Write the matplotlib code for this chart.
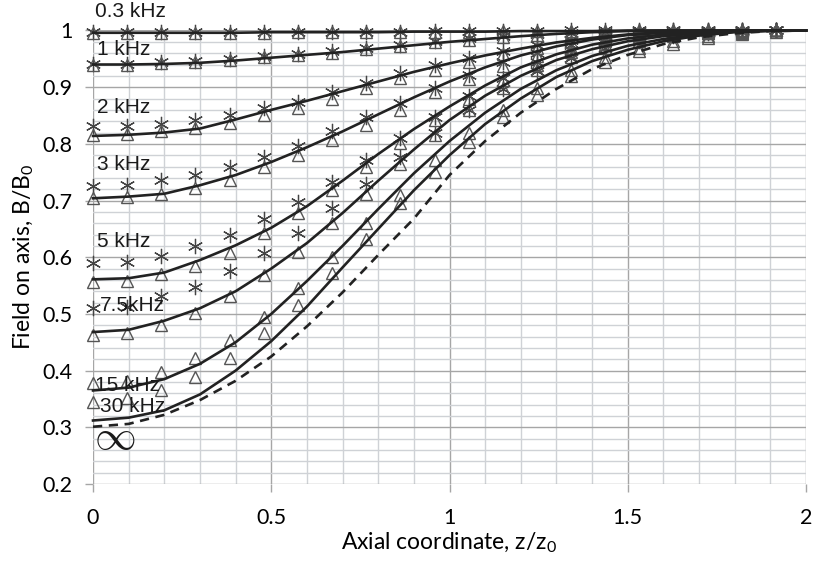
import numpy as np
import matplotlib
matplotlib.use("Agg")
import matplotlib.pyplot as plt
from matplotlib.ticker import MultipleLocator

# axial positions of the curves and of the measured points (z/z0)
x_curve = [0.0, 0.1, 0.2, 0.3, 0.4, 0.5, 0.6, 0.7, 0.8, 0.9, 1.0,
           1.1, 1.2, 1.3, 1.4, 1.5, 1.6, 1.7, 1.8, 1.9, 2.0]
x_pts = [0.0, 0.096, 0.192, 0.287, 0.383, 0.479, 0.575, 0.670, 0.766, 0.862, 0.958,
         1.054, 1.149, 1.245, 1.341, 1.437, 1.532, 1.628, 1.724, 1.820, 1.916]

# calculated curves, B/B0
c_03k = [0.996, 0.996, 0.996, 0.996, 0.996, 0.997, 0.997, 0.997, 0.997, 0.998, 0.998,
         0.998, 0.999, 0.999, 0.999, 1.0, 1.0, 1.0, 1.0, 1.0, 1.0]
c_1k = [0.940, 0.940, 0.941, 0.943, 0.947, 0.952, 0.957, 0.962, 0.968, 0.974, 0.980,
        0.985, 0.990, 0.994, 0.997, 0.999, 1.0, 1.0, 1.0, 1.0, 1.0]
c_2k = [0.814, 0.816, 0.820, 0.827, 0.843, 0.860, 0.876, 0.893, 0.910, 0.927, 0.942,
        0.956, 0.968, 0.979, 0.987, 0.993, 0.997, 0.999, 1.0, 1.0, 1.0]
c_3k = [0.704, 0.707, 0.712, 0.727, 0.745, 0.768, 0.794, 0.822, 0.852, 0.882, 0.910,
        0.935, 0.956, 0.972, 0.984, 0.992, 0.996, 0.998, 0.999, 1.0, 1.0]
c_5k = [0.561, 0.563, 0.573, 0.595, 0.621, 0.652, 0.690, 0.735, 0.782, 0.826, 0.866,
        0.903, 0.935, 0.958, 0.975, 0.986, 0.993, 0.997, 0.999, 1.0, 1.0]
c_75k = [0.468, 0.472, 0.488, 0.510, 0.540, 0.580, 0.625, 0.678, 0.735, 0.790, 0.842,
         0.885, 0.920, 0.948, 0.967, 0.981, 0.990, 0.995, 0.998, 1.0, 1.0]
c_15k = [0.365, 0.370, 0.385, 0.412, 0.450, 0.500, 0.558, 0.620, 0.685, 0.748, 0.805,
         0.855, 0.897, 0.930, 0.955, 0.973, 0.985, 0.993, 0.998, 1.0, 1.0]
c_30k = [0.312, 0.317, 0.330, 0.358, 0.400, 0.452, 0.513, 0.582, 0.650, 0.718, 0.780,
         0.835, 0.880, 0.918, 0.946, 0.966, 0.981, 0.991, 0.997, 0.999, 1.0]
c_inf = [0.301, 0.306, 0.322, 0.348, 0.382, 0.425, 0.478, 0.538, 0.604, 0.668, 0.745,
         0.805, 0.855, 0.897, 0.932, 0.957, 0.976, 0.988, 0.995, 0.999, 1.0]

# measured points, triangles
t_03k = [0.996, 0.996, 0.996, 0.996, 0.996, 0.996, 0.997, 0.997, 0.997, 0.998, 0.998,
         0.998, 0.999, 0.999, 0.999, 0.999, 1.0, 1.0, 1.0, 1.0, 1.0]
t_1k = [0.939, 0.939, 0.942, 0.945, 0.948, 0.953, 0.957, 0.961, 0.967, 0.973, 0.979,
        0.984, 0.988, 0.992, 0.995, 0.997, 0.998, 0.999, 1.0, 1.0, 1.0]
t_2k = [0.816, 0.817, 0.822, 0.828, 0.837, 0.851, 0.863, 0.879, 0.898, 0.916, 0.930,
        0.945, 0.958, 0.970, 0.980, 0.987, 0.992, 0.995, 0.998, 0.999, 1.0]
t_3k = [0.704, 0.707, 0.711, 0.723, 0.736, 0.760, 0.780, 0.807, 0.833, 0.860, 0.892,
        0.915, 0.937, 0.955, 0.970, 0.981, 0.988, 0.993, 0.997, 0.999, 1.0]
t_5k = [0.556, 0.558, 0.570, 0.585, 0.607, 0.642, 0.678, 0.719, 0.760, 0.801, 0.842,
        0.880, 0.912, 0.940, 0.962, 0.976, 0.986, 0.992, 0.996, 0.999, 1.0]
t_75k = [0.463, 0.466, 0.481, 0.501, 0.531, 0.569, 0.610, 0.660, 0.712, 0.765, 0.815,
         0.860, 0.898, 0.930, 0.954, 0.970, 0.982, 0.990, 0.995, 0.998, 1.0]
t_15k = [0.378, 0.382, 0.398, 0.422, 0.454, 0.495, 0.545, 0.600, 0.660, 0.710, 0.772,
         0.819, 0.860, 0.899, 0.930, 0.953, 0.970, 0.982, 0.990, 0.996, 1.0]
t_30k = [0.345, 0.351, 0.366, 0.389, 0.422, 0.466, 0.516, 0.572, 0.632, 0.696, 0.751,
         0.804, 0.848, 0.887, 0.920, 0.945, 0.963, 0.977, 0.987, 0.994, 0.998]

# measured points, asterisks
a_03k = [0.997, 0.997, 0.997, 0.997, 0.997, 0.997, 0.998, 0.998, 0.998, 0.998, 0.999,
         0.999, 0.999, 0.999, 1.0, 1.0, 1.0, 1.0, 1.0, 1.0, 1.0]
a_1k = [0.941, 0.941, 0.944, 0.947, 0.950, 0.955, 0.959, 0.963, 0.969, 0.975, 0.981,
        0.986, 0.990, 0.993, 0.996, 0.998, 0.999, 1.0, 1.0, 1.0, 1.0]
a_2k = [0.832, 0.832, 0.835, 0.842, 0.851, 0.863, 0.874, 0.892, 0.907, 0.925, 0.939,
        0.952, 0.964, 0.975, 0.984, 0.990, 0.994, 0.997, 0.999, 1.0, 1.0]
a_3k = [0.725, 0.728, 0.736, 0.745, 0.760, 0.777, 0.796, 0.822, 0.848, 0.872, 0.898,
        0.922, 0.944, 0.961, 0.975, 0.985, 0.991, 0.995, 0.998, 0.999, 1.0]
a_5k = [0.589, 0.592, 0.603, 0.619, 0.639, 0.667, 0.698, 0.733, 0.772, 0.810, 0.848,
        0.885, 0.917, 0.944, 0.965, 0.979, 0.988, 0.994, 0.997, 0.999, 1.0]
a_75k = [0.510, 0.513, 0.531, 0.548, 0.575, 0.607, 0.642, 0.686, 0.730, 0.777, 0.819,
         0.860, 0.896, 0.928, 0.952, 0.969, 0.982, 0.990, 0.995, 0.998, 1.0]

curves = [c_03k, c_1k, c_2k, c_3k, c_5k, c_75k, c_15k, c_30k]
triangles = [t_03k, t_1k, t_2k, t_3k, t_5k, t_75k, t_15k, t_30k]
asterisks = [a_03k, a_1k, a_2k, a_3k, a_5k, a_75k]

# curve labels: text, x, y
labels = ["0.3 kHz", "1 kHz", "2 kHz", "3 kHz", "5 kHz", "7.5kHz", "15 kHz", "30 kHz"]
label_x = [0.006, 0.011, 0.011, 0.011, 0.011, 0.02, 0.006, 0.02]
label_y = [1.033, 0.967, 0.865, 0.763, 0.627, 0.514, 0.373, 0.336]

fig = plt.figure(figsize=(8.13, 5.69), dpi=100)
ax = fig.add_axes([0.1144, 0.1494, 0.877, 0.797])

# --- grid ---
ax.set_xlim(0, 2)
ax.set_ylim(0.2, 1.0)
ax.xaxis.set_major_locator(MultipleLocator(0.5))
ax.xaxis.set_minor_locator(MultipleLocator(0.1))
ax.yaxis.set_major_locator(MultipleLocator(0.1))
ax.yaxis.set_minor_locator(MultipleLocator(0.02))
ax.grid(which='major', color='#a6a6a6', linewidth=1.0)
ax.grid(which='minor', color='#cfd2d6', linewidth=1.0)
ax.set_axisbelow(True)
for s in ax.spines.values():
    s.set_visible(False)
ax.tick_params(which='major', axis='x', length=6, width=1, color='#a6a6a6',
               labelsize=15.5, pad=11, direction='out')
ax.tick_params(which='major', axis='y', length=6, width=1, color='#a6a6a6',
               labelsize=15.5, pad=9, direction='out')
ax.tick_params(which='minor', length=0)
ax.set_xticks([0, 0.5, 1, 1.5, 2])
ax.set_xticklabels(["0", "0.5", "1", "1.5", "2"], family='Lato')
ax.set_yticks([0.2, 0.3, 0.4, 0.5, 0.6, 0.7, 0.8, 0.9, 1.0])
ax.set_yticklabels(["0.2", "0.3", "0.4", "0.5", "0.6", "0.7", "0.8", "0.9", "1"], family='Lato')

# --- measured points ---
for ys in asterisks:
    ax.plot(x_pts, ys, linestyle='none', marker=(6, 2, 0), markersize=11,
            markeredgecolor='#444444', markeredgewidth=0.9, clip_on=False)
for ys in triangles:
    ax.plot(x_pts, ys, linestyle='none', marker='^', markersize=9,
            markerfacecolor='none', markeredgecolor='#555555', markeredgewidth=1.0,
            clip_on=False)

# --- calculated curves ---
for ys in curves:
    ax.plot(x_curve, ys, color='#222222', linewidth=1.9, clip_on=False)
ax.plot(x_curve, c_inf, color='#222222', linewidth=1.9, linestyle=(0, (3.5, 2.5)),
        clip_on=False)

for t, lx, ly in zip(labels, label_x, label_y):
    ax.text(lx, ly, t, fontsize=15, family='Liberation Sans', color='#1a1a1a',
            ha='left', va='center', clip_on=False)
ax.text(0.062, 0.283, r"$\infty$", fontsize=30, color='#1a1a1a', ha='center',
        va='center', math_fontfamily='cm')

ax.set_xlabel("Axial coordinate, z/z$_\\mathregular{0}$", family='Lato', fontsize=16.5,
              labelpad=2)
ax.set_ylabel("Field on axis, B/B$_\\mathregular{0}$", family='Lato', fontsize=16.5,
              labelpad=4)

fig.savefig("out.png", dpi=100)
